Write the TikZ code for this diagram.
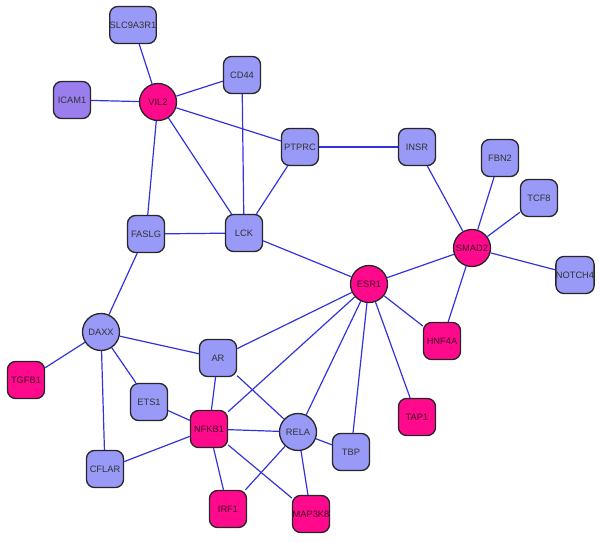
\documentclass[tikz,border=0pt]{standalone}
\usepackage{fontspec}
\setmainfont{Liberation Sans}
\begin{document}
\begin{tikzpicture}[x=1pt,y=-1pt,
  base/.style={draw=black!85, line width=1.3pt, minimum size=37pt, inner sep=0pt,
    font=\fontsize{9.3}{11}\selectfont, text=black!80},
  bbox/.style={base, rounded corners=8pt, fill=bluefill},
  pbox/.style={base, rounded corners=8pt, fill=pinkfill, text=black!75!pinkfill},
  vbox/.style={base, rounded corners=8pt, fill=violetfill},
  bcirc/.style={base, circle, fill=bluefill},
  pcirc/.style={base, circle, fill=pinkfill, text=black!75!pinkfill},
  edge/.style={draw=edgeblue, line width=1.2pt}]
\definecolor{bluefill}{HTML}{9999F8}
\definecolor{pinkfill}{HTML}{FF0A8C}
\definecolor{violetfill}{HTML}{9A7EEE}
\definecolor{edgeblue}{HTML}{3333DD}
\useasboundingbox (0,0) rectangle (600,543);
\node[bbox] (SLC) at (133,25) {SLC9A3R1};
\node[bbox] (CD44) at (242,75) {CD44};
\node[vbox] (ICAM1) at (72,100) {ICAM1};
\node[pcirc] (VIL2) at (158,102) {VIL2};
\node[bbox] (PTPRC) at (300,147) {PTPRC};
\node[bbox] (INSR) at (417,147) {INSR};
\node[bbox] (FBN2) at (500,158) {FBN2};
\node[bbox] (TCF8) at (539,198) {TCF8};
\node[pcirc] (SMAD2) at (472,248) {SMAD2};
\node[bbox] (NOTCH4) at (575,275) {NOTCH4};
\node[bbox] (FASLG) at (146,234) {FASLG};
\node[bbox] (LCK) at (244,233) {LCK};
\node[pcirc] (ESR1) at (369,284) {ESR1};
\node[pbox] (HNF4A) at (442,341) {HNF4A};
\node[bcirc] (DAXX) at (101,332) {DAXX};
\node[pbox] (TGFB1) at (26,380) {TGFB1};
\node[bbox] (AR) at (218,358) {AR};
\node[bbox] (ETS1) at (149,402) {ETS1};
\node[pbox] (TAP1) at (417,417) {TAP1};
\node[pbox] (NFKB1) at (209,429) {NFKB1};
\node[bcirc] (RELA) at (298,432) {RELA};
\node[bbox] (TBP) at (351,452) {TBP};
\node[bbox] (CFLAR) at (105,469) {CFLAR};
\node[pbox] (IRF1) at (228,509) {IRF1};
\node[pbox] (MAP3K8) at (311,514) {MAP3K8};
\foreach \a/\b in {SLC/VIL2, ICAM1/VIL2, CD44/VIL2, VIL2/PTPRC, VIL2/FASLG, VIL2/LCK,
  CD44/LCK, PTPRC/LCK, PTPRC/INSR, INSR/SMAD2, FBN2/SMAD2, TCF8/SMAD2, SMAD2/NOTCH4,
  SMAD2/ESR1, SMAD2/HNF4A, FASLG/LCK, LCK/ESR1, FASLG/DAXX, ESR1/HNF4A, ESR1/TAP1,
  ESR1/TBP, ESR1/RELA, ESR1/NFKB1, ESR1/AR, DAXX/TGFB1, DAXX/AR, DAXX/ETS1, DAXX/CFLAR,
  AR/NFKB1, AR/RELA, ETS1/NFKB1, NFKB1/CFLAR, NFKB1/RELA, NFKB1/IRF1, NFKB1/MAP3K8,
  RELA/TBP, RELA/IRF1, RELA/MAP3K8}
  \draw[edge] (\a) -- (\b);
\end{tikzpicture}
\end{document}
